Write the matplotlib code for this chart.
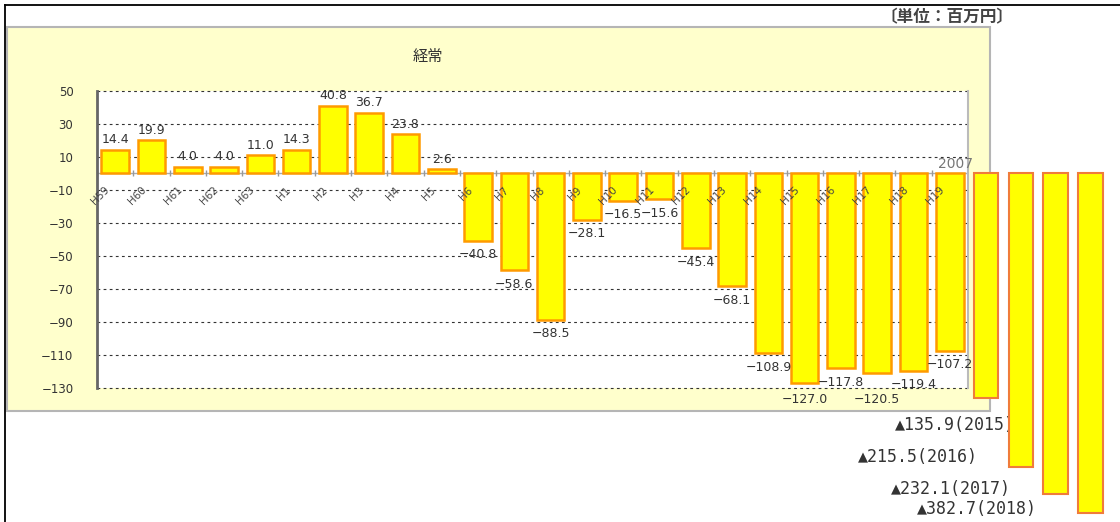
import numpy as np
import matplotlib.pyplot as plt
from matplotlib.patches import Rectangle
from matplotlib.lines import Line2D

plt.rcParams['font.family'] = ['DejaVu Sans', 'Noto Sans CJK JP']

# fiscal years on the x axis
years = ['H59', 'H60', 'H61', 'H62', 'H63', 'H1', 'H2', 'H3', 'H4', 'H5',
         'H6', 'H7', 'H8', 'H9', 'H10', 'H11', 'H12', 'H13', 'H14', 'H15',
         'H16', 'H17', 'H18', 'H19']
# ordinary profit, million yen
profit = [14.4, 19.9, 4.0, 4.0, 11.0, 14.3, 40.8, 36.7, 23.8, 2.6,
          -40.8, -58.6, -88.5, -28.1, -16.5, -15.6, -45.4, -68.1, -108.9, -127.0,
          -117.8, -120.5, -119.4, -107.2]
y_ticks = [50, 30, 10, -10, -30, -50, -70, -90, -110, -130]

# later years pasted under the chart (their bars are drawn shorter than the value)
later_years = [2015, 2016, 2017, 2018]
later_loss = [135.9, 215.5, 232.1, 382.7]
later_drawn = [-135.9, -177.6, -194.0, -205.4]

W, H = 1120, 522


def fx(px):
    return px / W


def fy(py):
    return 1 - py / H


fig = plt.figure(figsize=(W / 100, H / 100), dpi=100)

# pale yellow chart panel
fig.add_artist(Rectangle((fx(7), fy(411)), (990 - 7) / W, (411 - 27) / H,
                         transform=fig.transFigure, facecolor='#FFFFCC',
                         edgecolor='#B5B5B5', lw=1.5, zorder=-5))
# black frame on top and left
fig.add_artist(Line2D([fx(5), 1], [fy(5), fy(5)], color='black', lw=1.3))
fig.add_artist(Line2D([fx(5), fx(5)], [fy(5), 0], color='black', lw=1.3))

ax = fig.add_axes([fx(97), fy(388.3), (968 - 97) / W, (388.3 - 90.7) / H])
ax.set_facecolor('white')
ax.set_xlim(-0.5, 23.5)
ax.set_ylim(-130, 50)

x = np.arange(len(profit))
ax.bar(x, profit, width=0.76, color='#FFFF00', edgecolor='#FF9A00',
       linewidth=1.8, zorder=3)

# a few labels are pushed further down so they don't collide
extra_drop = {19: 1.5, 21: 9.5}
for xi, v in zip(x, profit):
    s = f'{v:.1f}'.replace('-', '\u2212')
    if v >= 0:
        ax.annotate(s, (xi, v), xytext=(0, 2.5), textcoords='offset points',
                    ha='center', va='bottom', fontsize=9, color='#333333', zorder=4)
    else:
        dy = -5.5 - extra_drop.get(xi, 0)
        ax.annotate(s, (xi, v), xytext=(0, dy), textcoords='offset points',
                    ha='center', va='top', fontsize=9, color='#333333', zorder=4)

for xi, lab in zip(x, years):
    ax.text(xi - 0.2, -9, lab, rotation=45, rotation_mode='anchor',
            ha='right', va='center', fontsize=7.5, color='#444444', zorder=5)

ax.axhline(0, color='#AAAAAA', lw=1, zorder=2)
ax.plot(np.arange(len(profit) + 1) - 0.5, np.zeros(len(profit) + 1), '|',
        color='#999999', ms=4, zorder=2)

ax.set_yticks(y_ticks)
ax.yaxis.grid(True, linestyle=(0, (2.5, 3)), color='#333333', lw=0.8)
for gl in ax.get_ygridlines():
    gl.set_clip_on(False)
ax.set_axisbelow(True)
ax.set_xticks([])
ax.tick_params(axis='y', length=0, pad=17, labelsize=8.5, labelcolor='#333333')

for side in ['top', 'bottom']:
    ax.spines[side].set_visible(False)
ax.spines['left'].set_color('#666666')
ax.spines['left'].set_linewidth(2)
ax.spines['right'].set_color('#BBBBBB')
ax.spines['right'].set_linewidth(1.5)

ax.text(23.65, 1.2, '2007', ha='right', va='bottom', fontsize=10,
        color='#777777', zorder=5)

# the pasted bars to the right of the panel
ex = 24 + np.arange(len(later_drawn)) * 0.96
ax.bar(ex, later_drawn, width=0.68, color='#FFFF00', edgecolor='#F07C3A',
       linewidth=1.5, zorder=6, clip_on=False)

label_pos = [(954.5, 425), (917.5, 457), (951, 489), (976.5, 509)]
for (px, py), yr, v in zip(label_pos, later_years, later_loss):
    fig.text(fx(px), fy(py), f'▲{v:.1f}({yr})', ha='center', va='center',
             family=['DejaVu Sans Mono', 'DejaVu Sans'], fontsize=12,
             color='#333333', zorder=-1)

fig.text(fx(947), fy(17), '〔単位：百万円〕', ha='center', va='center',
         family=['Noto Sans CJK JP'], fontsize=12, weight='bold', color='#444444')
fig.text(fx(428), fy(56), '経常', ha='center', va='center',
         family=['Noto Sans CJK JP'], fontsize=11, color='#333333')

fig.savefig('out.png', dpi=100)
